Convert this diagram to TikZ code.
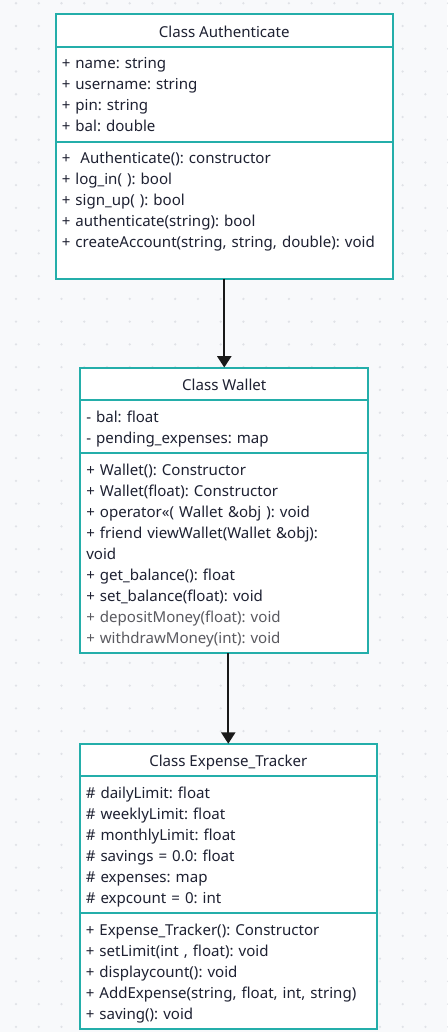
\documentclass[tikz,border=0pt]{standalone}
\usepackage{fontspec}
\setmainfont{Noto Sans}
\usepackage{tikz}
\usetikzlibrary{arrows.meta,positioning}
\frenchspacing
\definecolor{cBack}{RGB}{248,249,251}
\definecolor{cDot}{RGB}{224,226,231}
\definecolor{cTeal}{RGB}{36,174,170}
\definecolor{cInk}{RGB}{30,33,50}
\definecolor{cGrey}{RGB}{90,90,96}
\tikzset{
  basebox/.style={rectangle,draw=cTeal,line width=1.5pt,fill=white,
                  outer sep=0pt,text=cInk,
                  font=\fontsize{11.3pt}{15.75pt}\selectfont},
  titlebox/.style={basebox,minimum height=24.5pt,inner sep=0pt,
                   text height=10.3pt,text depth=0pt},
  membox/.style={basebox,align=left,inner xsep=4.5pt,inner ysep=4.1pt,
                 execute at begin node={\rule{0pt}{12.3pt}},
                 execute at end node={\rule[-3.45pt]{0pt}{0pt}}},
  arr/.style={-{Triangle[width=10.5pt,length=8.5pt]},line width=1.5pt,
              color=black!90}
}

\begin{document}
\begin{tikzpicture}

  % page and dotted backdrop
  \fill[cBack] (0,0) rectangle (335.25pt,-774pt);
  \useasboundingbox (0,0) rectangle (335.25pt,-774pt);
  \foreach \i in {0,...,19}
    \foreach \j in {0,...,45}
      \fill[cDot] (12pt+17.06pt*\i,-2.44pt-17.06pt*\j) circle (0.95pt);

  % Class Authenticate
  \node[titlebox,minimum width=252.75pt,anchor=north] (auth)
      at (168.2pt,-10.5pt) {Class Authenticate};
  \node[membox,text width=243.75pt,below=0pt of auth] (auth-attr)
      {+ name: string\\
       + username: string\\
       + pin: string\\
       + bal: double};
  \node[membox,text width=243.75pt,below=0pt of auth-attr] (auth-meth)
      {+\ \ Authenticate(): constructor\\
       + log\_in( ): bool\\
       + sign\_up( ): bool\\
       + authenticate(string): bool\\
       + createAccount(string, string, double): void\\};

  % Class Wallet
  \node[titlebox,minimum width=216pt,below=66.75pt of auth-meth] (wal)
      {Class Wallet};
  \node[membox,text width=207pt,below=0pt of wal] (wal-attr)
      {- bal: float\\
       - pending\_expenses: map};
  \node[membox,text width=207pt,below=0pt of wal-attr] (wal-meth)
      {+ Wallet(): Constructor\\
       + Wallet(float): Constructor\\
       + operator«( Wallet \&obj ): void\\
       + friend viewWallet(Wallet \&obj):\\
       void\\
       + get\_balance(): float\\
       + set\_balance(float): void\\
       {\color{cGrey}+ depositMoney(float): void}\\
       {\color{cGrey}+ withdrawMoney(int): void}};

  % Class Expense_Tracker
  \node[titlebox,minimum width=222.75pt,below=68pt of wal-meth,
        xshift=3pt] (exp) {Class Expense\_Tracker};
  \node[membox,text width=213.75pt,below=0pt of exp] (exp-attr)
      {\# dailyLimit: float\\
       \# weeklyLimit: float\\
       \# monthlyLimit: float\\
       \# savings = 0.0: float\\
       \# expenses: map\\
       \# expcount = 0: int};
  \node[membox,text width=213.75pt,below=0pt of exp-attr] (exp-meth)
      {+ Expense\_Tracker(): Constructor\\
       + setLimit(int , float): void\\
       + displaycount(): void\\
       + AddExpense(string, float, int, string)\\
       + saving(): void};

  \draw[arr] (auth-meth.south) -- (wal.north);
  \draw[arr] (exp.north |- wal-meth.south) -- (exp.north);

\end{tikzpicture}
\end{document}
